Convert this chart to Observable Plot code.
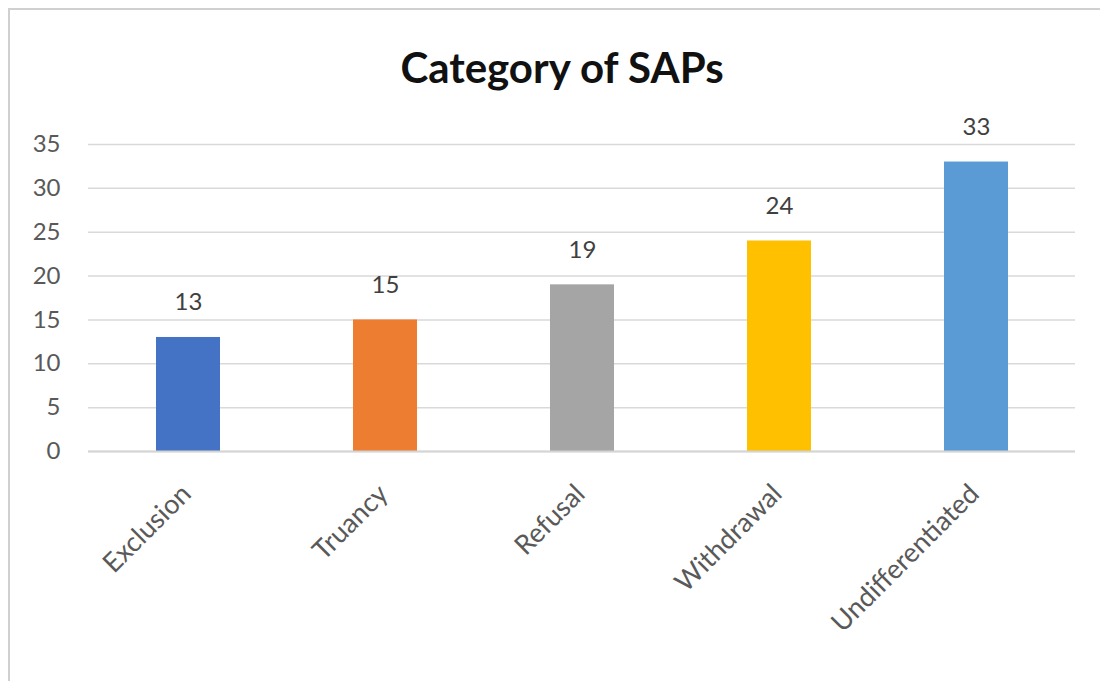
<!DOCTYPE html>
<html>
<head>
<meta charset="utf-8">
<script src="https://cdn.jsdelivr.net/npm/d3@7"></script>
<script src="https://cdn.jsdelivr.net/npm/@observablehq/plot@0.6"></script>
<style>
  html, body { margin: 0; padding: 0; background: #fff; overflow: hidden; width: 1100px; height: 681px; }
  #frame { position: absolute; left: 8px; top: 8px; width: 1200px; height: 800px; border: 2px solid #d0d0d0; box-sizing: border-box; }
  #title { position: absolute; left: 0; width: 1124px; top: 42px; text-align: center; font-family: Lato, "Open Sans", sans-serif; font-weight: bold; font-size: 42px; color: #111; }
  #chart { position: absolute; left: 0; top: 0; }
</style>
</head>
<body>
<div id="frame"></div>
<div id="title">Category of SAPs</div>
<div id="chart"></div>
<script>
const categories = ["Exclusion", "Truancy", "Refusal", "Withdrawal", "Undifferentiated"];
const values = [13, 15, 19, 24, 33];
const colors = ["#4472C4", "#ED7D31", "#A5A5A5", "#FFC000", "#5B9BD5"];
const yTicks = [0, 5, 10, 15, 20, 25, 30, 35];

const data = categories.map((c, i) => ({category: c, value: values[i]}));

const chart = Plot.plot({
  width: 1100,
  height: 681,
  marginLeft: 88,
  marginRight: 25,
  marginTop: 144,
  marginBottom: 230,
  style: {fontFamily: "Lato, 'Open Sans', sans-serif", background: "transparent"},
  x: {domain: categories, paddingInner: 0.676, paddingOuter: 0.338, label: null},
  y: {domain: [0, 35], label: null},
  color: {domain: categories, range: colors},
  marks: [
    Plot.gridY(yTicks, {stroke: "#d9d9d9", strokeOpacity: 1, strokeWidth: 1.5}),
    Plot.barY(data, {x: "category", y: "value", fill: "category"}),
    Plot.ruleY([0], {stroke: "#d4d4d4", strokeWidth: 2}),
    Plot.text(data, {x: "category", y: "value", text: d => String(d.value), dy: -35, fontSize: 24, fill: "#404040"}),
    Plot.axisY(yTicks, {tickSize: 0, tickPadding: 28, fontSize: 24, color: "#595959", label: null}),
    Plot.axisX({tickSize: 0, tickPadding: 38, tickRotate: -45, fontSize: 27, color: "#595959", label: null, dx: -2})
  ]
});
document.getElementById("chart").appendChild(chart);
</script>
</body>
</html>
